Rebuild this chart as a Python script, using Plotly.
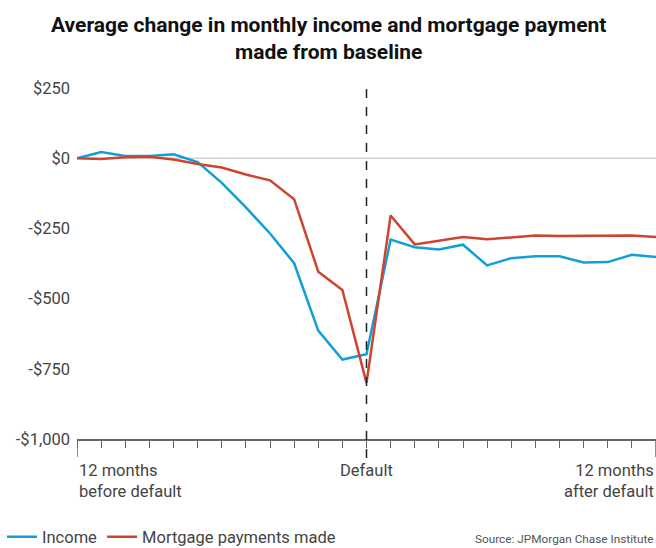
import plotly.graph_objects as go

months = list(range(-12, 13))
income = [0, 22, 8, 8, 14, -14, -88, -175, -268, -374, -614, -717, -698,
          -290, -317, -325, -308, -382, -356, -349, -349, -371, -370, -344, -352]
mortgage = [0, -3, 3, 5, -5, -21, -33, -58, -79, -146, -404, -469, -800,
            -204, -307, -295, -281, -289, -281, -275, -277, -277, -275, -275, -281]

y_tickvals = [250, 0, -250, -500, -750, -1000]
y_ticktext = ["$250", "$0", "-$250", "-$500", "-$750", "-$1,000"]

BLUE = "#119fd9"
RED = "#cf4430"
TXT = "#444444"
FONT = "Roboto, Lato, sans-serif"
TFONT = "Roboto, sans-serif"

W, H = 656, 548
ML, MR, MT, MB = 77, 0, 88, 109
PW, PH = W - ML - MR, H - MT - MB


def px_y(py):
    """pixel row from top -> paper y"""
    return (H - MB - py) / PH


def px_x(px):
    return (px - ML) / PW


fig = go.Figure()
fig.add_trace(go.Scatter(x=months, y=income, mode="lines", name="Income",
                         line=dict(color=BLUE, width=2.5)))
fig.add_trace(go.Scatter(x=months, y=mortgage, mode="lines", name="Mortgage payments made",
                         line=dict(color=RED, width=2.5)))

# zero line
fig.add_shape(type="line", xref="x", yref="y", x0=-12, x1=12, y0=0, y1=0,
              line=dict(color="#bbbbbb", width=1), layer="below")
# default dashed line
fig.add_shape(type="line", xref="x", yref="paper", x0=0, x1=0, y0=px_y(458), y1=1,
              line=dict(color="#222222", width=1.5, dash="dash"))
# longer end ticks
for xv in (-12, 12):
    fig.add_shape(type="line", xref="x", yref="paper", x0=xv, x1=xv, y0=px_y(457), y1=0,
                  line=dict(color="#666666", width=1.5))

fig.add_annotation(x=-12, y=px_y(459), xref="x", yref="paper", xanchor="left", yanchor="top",
                   text="12 months<br>before default", showarrow=False, align="left",
                   font=dict(family=FONT, size=16.5, color=TXT))
fig.add_annotation(x=0, y=px_y(459), xref="x", yref="paper", xanchor="center", yanchor="top",
                   text="Default", showarrow=False,
                   font=dict(family=FONT, size=16.5, color=TXT))
fig.add_annotation(x=12, y=px_y(459), xref="x", yref="paper", xanchor="right", yanchor="top",
                   text="12 months<br>after default", showarrow=False, align="right",
                   font=dict(family=FONT, size=16.5, color=TXT))
fig.add_annotation(x=1, y=px_y(539), xref="paper", yref="paper", xanchor="right", yanchor="middle",
                   text="Source: JPMorgan Chase Institute", showarrow=False,
                   font=dict(family=FONT, size=11.8, color="#555555"))
# title
fig.add_annotation(x=px_x(328), y=px_y(38.5), xref="paper", yref="paper",
                   xanchor="center", yanchor="middle", showarrow=False, align="center",
                   text="<b>Average change in monthly income and mortgage payment<br>made from baseline</b>",
                   font=dict(family=TFONT, size=21, color="#111111"))

fig.update_layout(
    width=W, height=H,
    margin=dict(l=ML, r=MR, t=MT, b=MB),
    paper_bgcolor="white", plot_bgcolor="white",
    font=dict(family=FONT, size=16.5, color=TXT),
    showlegend=True,
    legend=dict(orientation="h", xref="container", yref="container",
                x=2 / W, xanchor="left", y=(H - 537) / H, yanchor="middle",
                font=dict(family=FONT, size=16.5, color=TXT), itemwidth=30,
                bgcolor="rgba(0,0,0,0)"),
    xaxis=dict(range=[-12, 12], showgrid=False, zeroline=False, showline=True,
               linecolor="#666666", linewidth=1.5, ticks="outside", ticklen=7,
               tickcolor="#666666", tickwidth=1, dtick=1, tick0=0, showticklabels=False),
    yaxis=dict(range=[-1000, 250], showgrid=False, zeroline=False, showline=False,
               tickvals=y_tickvals, ticktext=y_ticktext, ticks="", ticklabelstandoff=6,
               tickfont=dict(family=FONT, size=16.5, color=TXT)),
)

fig.write_html("out.html", config={"displayModeBar": False},
               post_script="document.body.style.margin='0';document.body.style.overflow='hidden';")
